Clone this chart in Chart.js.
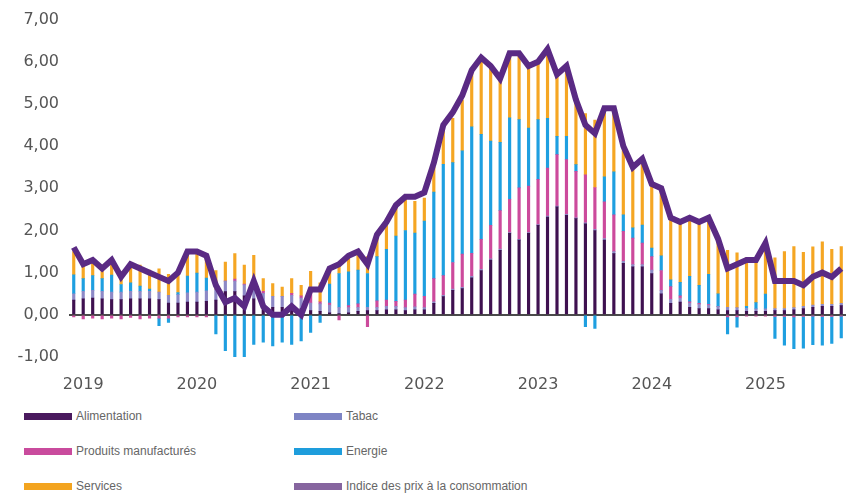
<!DOCTYPE html>
<html lang="fr">
<head>
<meta charset="utf-8">
<title>Contributions à l'inflation</title>
<script src="https://cdn.jsdelivr.net/npm/chart.js@4/dist/chart.umd.min.js"></script>
<style>
  html, body { margin: 0; padding: 0; background: #fff; }
  #wrap { position: relative; width: 846px; height: 495px; overflow: hidden; }
  #chartBox { position: absolute; left: 0; top: 0; width: 846px; height: 400px; }
  .legend-item { position: absolute; height: 14px; font: 12px "Liberation Sans", Arial, sans-serif; color: #666; white-space: nowrap; }
  .legend-item .swatch { position: absolute; left: 0; top: 4px; width: 48px; height: 7px; }
  .legend-item .label { position: absolute; left: 52px; top: 0; line-height: 14px; }
</style>
</head>
<body>
<div id="wrap">
  <div id="chartBox"><canvas id="inflationChart"></canvas></div>
  <div id="legend"></div>
</div>
<script>
// mois (déc. 2018 -> sept. 2025)
const months = [
  '12/18',
  '01/19','02/19','03/19','04/19','05/19','06/19','07/19','08/19','09/19','10/19','11/19','12/19',
  '01/20','02/20','03/20','04/20','05/20','06/20','07/20','08/20','09/20','10/20','11/20','12/20',
  '01/21','02/21','03/21','04/21','05/21','06/21','07/21','08/21','09/21','10/21','11/21','12/21',
  '01/22','02/22','03/22','04/22','05/22','06/22','07/22','08/22','09/22','10/22','11/22','12/22',
  '01/23','02/23','03/23','04/23','05/23','06/23','07/23','08/23','09/23','10/23','11/23','12/23',
  '01/24','02/24','03/24','04/24','05/24','06/24','07/24','08/24','09/24','10/24','11/24','12/24',
  '01/25','02/25','03/25','04/25','05/25','06/25','07/25','08/25','09/25'
];
const yearTicks = ['2019', '2020', '2021', '2022', '2023', '2024', '2025'];

// contributions (points de %)
const alimentation = [
  0.35,
  0.38, 0.40, 0.38, 0.36, 0.36, 0.38, 0.38, 0.38, 0.36, 0.28, 0.28, 0.30,
  0.30, 0.32, 0.35, 0.55, 0.55, 0.45, 0.38, 0.25, 0.18, 0.18, 0.20, 0.15,
  0.10, 0.08, 0.05, 0.03, 0.05, 0.08, 0.10, 0.10, 0.12, 0.12, 0.10, 0.12,
  0.12, 0.27, 0.43, 0.58, 0.62, 0.88, 1.05, 1.30, 1.53, 1.93, 1.77, 1.93,
  2.12, 2.32, 2.56, 2.36, 2.28, 2.16, 2.00, 1.77, 1.45, 1.22, 1.14, 1.14,
  0.98, 0.50, 0.27, 0.30, 0.18, 0.15, 0.15, 0.12, 0.10, 0.10, 0.08, 0.08,
  0.08, 0.10, 0.10, 0.12, 0.15, 0.18, 0.20, 0.20, 0.22
];
const tabac = [
  0.15,
  0.18, 0.18, 0.18, 0.18, 0.18, 0.18, 0.18, 0.18, 0.18, 0.18, 0.20, 0.22,
  0.24, 0.25, 0.25, 0.25, 0.25, 0.26, 0.26, 0.26, 0.26, 0.26, 0.26, 0.25,
  0.18, 0.18, 0.18, 0.15, 0.12, 0.10, 0.08, 0.08, 0.08, 0.08, 0.07, 0.07,
  0.05, 0.04, 0.03, 0.03, 0.03, 0.03, 0.03, 0.03, 0.03, 0.02, 0.02, 0.02,
  0.02, 0.02, 0.02, 0.02, 0.02, 0.02, 0.03, 0.04, 0.05, 0.05, 0.05, 0.05,
  0.08, 0.08, 0.10, 0.10, 0.10, 0.10, 0.08, 0.08, 0.08, 0.07, 0.07, 0.06,
  0.06, 0.05, 0.05, 0.05, 0.05, 0.05, 0.05, 0.05, 0.05
];
const produitsManufactures = [
  -0.05,
  -0.10, -0.08, -0.10, -0.08, -0.10, -0.06, -0.10, -0.08, -0.08, -0.08, -0.05, -0.05,
  -0.05, -0.05, 0.00, 0.00, 0.05, 0.02, 0.22, 0.05, -0.02, 0.00, 0.05, 0.05,
  0.25, 0.05, 0.05, -0.12, 0.05, 0.08, -0.28, 0.15, 0.15, 0.12, 0.18, 0.30,
  0.27, 0.55, 0.47, 0.63, 0.79, 0.55, 0.71, 0.79, 0.91, 0.79, 1.22, 1.10,
  1.07, 1.14, 1.22, 1.30, 1.10, 1.14, 0.99, 0.87, 0.87, 0.71, 0.63, 0.51,
  0.32, 0.47, 0.30, 0.05, 0.03, 0.02, 0.02, 0.00, -0.05, -0.05, -0.03, -0.03,
  -0.03, -0.04, -0.04, -0.05, -0.04, -0.03, -0.04, -0.04, -0.03
];
const energie = [
  0.45,
  0.30, 0.35, 0.30, 0.40, 0.18, 0.20, 0.12, 0.05, -0.18, -0.10, 0.05, 0.40,
  0.45, 0.30, -0.45, -0.85, -1.05, -1.00, -0.70, -0.65, -0.72, -0.65, -0.70, -0.62,
  -0.42, -0.18, 0.45, 0.80, 0.80, 0.80, 0.80, 1.05, 1.20, 1.55, 1.65, 1.45,
  1.78, 2.05, 2.64, 2.37, 2.45, 3.00, 2.49, 2.00, 1.62, 1.93, 1.62, 1.38,
  1.42, 1.18, 0.43, 0.55, 0.16, -0.28, -0.32, 0.59, 1.02, 0.39, 0.24, 0.43,
  0.20, 0.35, 0.16, 0.32, 0.60, 0.43, 0.71, 0.30, -0.40, -0.24, 0.05, 0.15,
  0.35, -0.52, -0.68, -0.75, -0.75, -0.68, -0.68, -0.64, -0.52
];
const services = [
  0.55,
  0.40, 0.40, 0.32, 0.40, 0.30, 0.45, 0.50, 0.45, 0.55, 0.50, 0.52, 0.60,
  0.55, 0.55, 0.45, 0.45, 0.60, 0.45, 0.55, 0.30, 0.30, 0.22, 0.35, 0.25,
  0.50, 0.45, 0.30, 0.25, 0.35, 0.42, 0.40, 0.55, 0.60, 0.70, 0.75, 0.75,
  0.55, 0.60, 0.80, 1.05, 1.20, 1.35, 1.80, 1.75, 1.48, 1.50, 1.55, 1.45,
  1.35, 1.62, 1.45, 1.65, 1.50, 1.45, 1.60, 1.60, 1.50, 1.60, 1.45, 1.55,
  1.50, 1.60, 1.45, 1.45, 1.40, 1.50, 1.34, 1.30, 1.35, 1.30, 1.15, 1.05,
  1.25, 1.20, 1.35, 1.45, 1.28, 1.38, 1.48, 1.30, 1.35
];
// glissement annuel de l'IPC (%)
const indicePrix = [
  1.6,
  1.2, 1.3, 1.1, 1.3, 0.9, 1.2, 1.1, 1.0, 0.9, 0.8, 1.0, 1.5,
  1.5, 1.4, 0.7, 0.3, 0.4, 0.2, 0.8, 0.2, 0.0, 0.0, 0.2, 0.0,
  0.6, 0.6, 1.1, 1.2, 1.4, 1.5, 1.2, 1.9, 2.2, 2.6, 2.8, 2.8,
  2.9, 3.6, 4.5, 4.8, 5.2, 5.8, 6.1, 5.9, 5.6, 6.2, 6.2, 5.9,
  6.0, 6.3, 5.7, 5.9, 5.1, 4.5, 4.3, 4.9, 4.9, 4.0, 3.5, 3.7,
  3.1, 3.0, 2.3, 2.2, 2.3, 2.2, 2.3, 1.8, 1.1, 1.2, 1.3, 1.3,
  1.7, 0.8, 0.8, 0.8, 0.7, 0.9, 1.0, 0.9, 1.1
];

const legendItems = [
  { label: 'Alimentation', color: '#4a1a5e', col: 0, row: 0 },
  { label: 'Tabac', color: '#7e84c4', col: 1, row: 0 },
  { label: 'Produits manufacturés', color: '#c94b9d', col: 0, row: 1 },
  { label: 'Energie', color: '#1e9ddc', col: 1, row: 1 },
  { label: 'Services', color: '#f3a41f', col: 0, row: 2 },
  { label: 'Indice des prix à la consommation', color: '#86659f', col: 1, row: 2 }
];

const tickFont = { family: '"DejaVu Sans", sans-serif', size: 16 };

const barSet = (label, data, color) => ({
  type: 'bar',
  label: label,
  data: data,
  backgroundColor: color,
  borderWidth: 0,
  barThickness: 2.5,
  stack: 'contrib',
  order: 1
});

const ctx = document.getElementById('inflationChart').getContext('2d');
new Chart(ctx, {
  data: {
    labels: months,
    datasets: [
      {
        type: 'line',
        label: 'Indice des prix à la consommation',
        data: indicePrix,
        borderColor: '#5a2a84',
        borderWidth: 6,
        pointRadius: 0,
        tension: 0,
        stack: 'ipc',
        order: 0
      },
      barSet('Alimentation', alimentation, '#3f1150'),
      barSet('Tabac', tabac, '#8d89c6'),
      barSet('Produits manufacturés', produitsManufactures, '#cc4a9c'),
      barSet('Energie', energie, '#1e9fe0'),
      barSet('Services', services, '#f5a623')
    ]
  },
  options: {
    responsive: true,
    maintainAspectRatio: false,
    animation: false,
    layout: { padding: { top: 19, right: 0, left: 0, bottom: 0 } },
    plugins: {
      legend: { display: false },
      tooltip: { enabled: false }
    },
    scales: {
      x: {
        stacked: true,
        grid: { display: false, drawTicks: false },
        border: { display: false },
        ticks: {
          autoSkip: false,
          maxRotation: 0,
          minRotation: 0,
          padding: 18,
          color: '#555',
          font: tickFont,
          callback: function (value, index) {
            const m = months[index];
            if (!m.startsWith('01/')) return '';
            return yearTicks.find(y => y.slice(2) === m.slice(3));
          }
        },
        afterFit: scale => {
          scale.height = 43;
          scale.paddingLeft = 0;
          scale.paddingRight = 0;
        }
      },
      y: {
        stacked: true,
        min: -1,
        max: 7,
        grid: {
          drawTicks: false,
          color: c => (c.tick.value === 0 ? '#4a4a4a' : 'rgba(0,0,0,0)'),
          lineWidth: c => (c.tick.value === 0 ? 2 : 0)
        },
        border: { display: false },
        ticks: {
          stepSize: 1,
          padding: 10,
          color: '#555',
          font: tickFont,
          callback: v => v.toFixed(2).replace('.', ',')
        },
        afterFit: scale => { scale.width = 69; }
      }
    }
  }
});

// légende sur deux colonnes
const legendEl = document.getElementById('legend');
const colX = [24, 294];
const rowY = [409, 444, 479];
legendItems.forEach(item => {
  const div = document.createElement('div');
  div.className = 'legend-item';
  div.style.left = colX[item.col] + 'px';
  div.style.top = rowY[item.row] + 'px';
  div.innerHTML = '<span class="swatch" style="background:' + item.color + '"></span>' +
    '<span class="label">' + item.label + '</span>';
  legendEl.appendChild(div);
});
</script>
</body>
</html>
